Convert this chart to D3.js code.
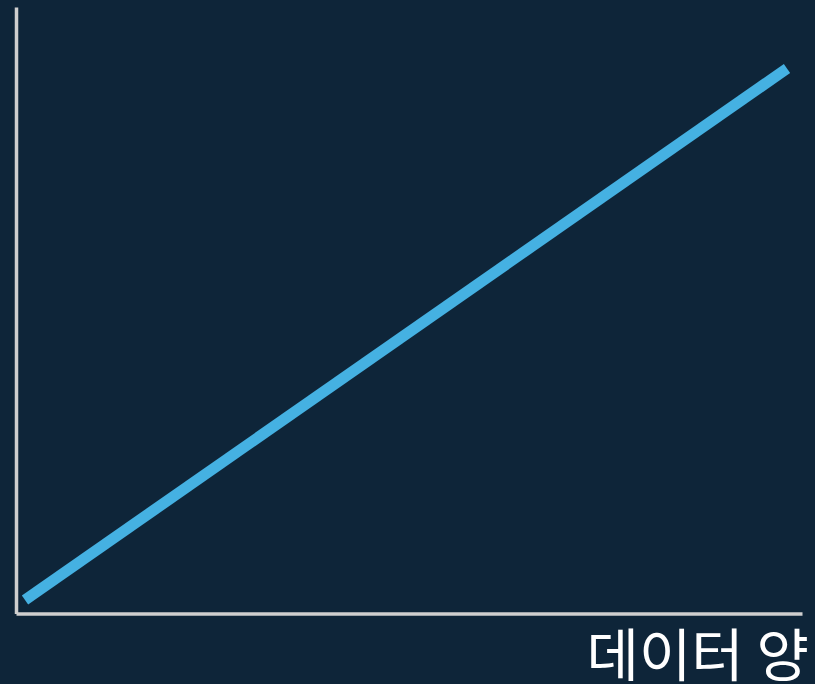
<!DOCTYPE html>
<html>
<head>
<meta charset="utf-8">
<script src="https://cdn.jsdelivr.net/npm/d3@7"></script>
<style>
  html, body { margin: 0; padding: 0; background: #0e2539; }
  svg { display: block; }
</style>
</head>
<body>
<svg id="chart" width="815" height="684"></svg>
<script>
const dataAmount = [0, 1];
const performance = [0, 1];
const xLabel = '데이터 양';

const width = 815;
const height = 684;
const origin = { x: 16, y: 613.5 };

const xScale = d3.scaleLinear().domain([0, 1]).range([25, 787]);
const yScale = d3.scaleLinear().domain([0, 1]).range([600, 68.5]);

const svg = d3.select('#chart');

svg.append('rect')
  .attr('width', width)
  .attr('height', height)
  .attr('fill', '#0e2539');

// axes: plain lines, no ticks
const axisX = d3.scaleLinear().range([origin.x, 802]);
const axisY = d3.scaleLinear().range([origin.y, 7]);

svg.append('g')
  .attr('transform', `translate(0,${origin.y})`)
  .call(d3.axisBottom(axisX).ticks(0).tickSizeOuter(0))
  .call((g) => g.select('.domain').attr('stroke', '#cfcfcf').attr('stroke-width', 3.5));

svg.append('g')
  .attr('transform', `translate(${origin.x},0)`)
  .call(d3.axisLeft(axisY).ticks(0).tickSizeOuter(0))
  .call((g) => g.select('.domain').attr('stroke', '#cfcfcf').attr('stroke-width', 3.5));

const points = dataAmount.map((d, i) => ({ x: d, y: performance[i] }));

const line = d3.line()
  .x((d) => xScale(d.x))
  .y((d) => yScale(d.y));

svg.append('path')
  .datum(points)
  .attr('d', line)
  .attr('fill', 'none')
  .attr('stroke', '#45b1e2')
  .attr('stroke-width', 11)
  .attr('stroke-linecap', 'butt');

svg.append('text')
  .attr('x', 809)
  .attr('y', 676)
  .attr('text-anchor', 'end')
  .attr('fill', '#ffffff')
  .style('font-family', '"Noto Sans CJK KR", "Noto Sans", sans-serif')
  .style('font-size', '57px')
  .text(xLabel);
</script>
</body>
</html>
